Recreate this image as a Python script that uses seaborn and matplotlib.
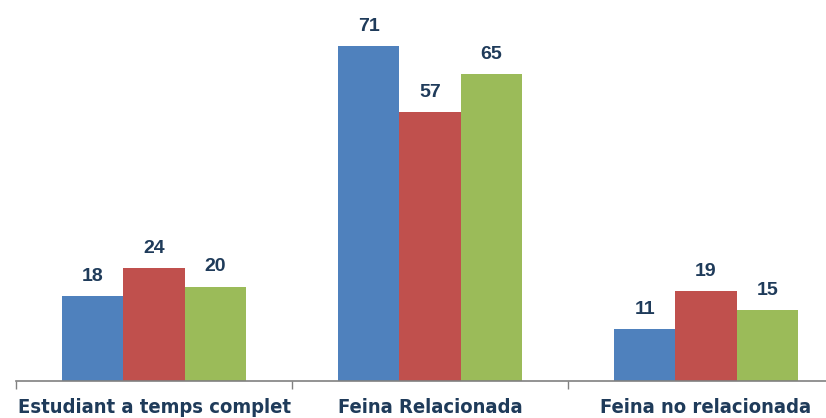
import matplotlib
matplotlib.use("Agg")
import matplotlib.pyplot as plt
import seaborn as sns
import pandas as pd
from matplotlib import font_manager

categories = ["Estudiant a temps complet", "Feina Relacionada", "Feina no relacionada"]
series = ["A", "B", "C"]
values_a = [18, 71, 11]
values_b = [24, 57, 19]
values_c = [20, 65, 15]
colors = ["#4F81BD", "#C0504D", "#9BBB59"]

rows = []
for s, vals in zip(series, [values_a, values_b, values_c]):
    for c, v in zip(categories, vals):
        rows.append({"cat": c, "series": s, "value": v})
df = pd.DataFrame(rows)

sns.set_style("white")
plt.rcParams['font.family'] = ['Liberation Sans', 'DejaVu Sans']

# find a condensed bold font file if available
cond_file = None
for f in font_manager.fontManager.ttflist:
    low = f.fname.lower()
    if ("narrow" in low or "condensed" in low) and ("bold" in low) and "oblique" not in low and "italic" not in low:
        if "liberation" in low:
            cond_file = f.fname
            break
        if cond_file is None:
            cond_file = f.fname

fig = plt.figure(figsize=(8.26, 4.18), dpi=100)
ax = fig.add_axes([16/826, 1 - 381/418, 810/826, 381/418])
sns.barplot(data=df, x="cat", y="value", hue="series", palette=colors,
            width=0.667, gap=0, saturation=1, ax=ax, legend=False, linewidth=0)

txt = "#1F3B5A"
for cont in ax.containers:
    ax.bar_label(cont, labels=[f"{v:.0f}" for v in cont.datavalues], padding=8,
                 fontsize=14, fontweight="bold", color=txt)

ax.set_xlim(-0.5, 810 / 276 - 0.5)
ax.set_ylim(0, 80.7)
ax.set_xlabel("")
ax.set_ylabel("")
ax.set_yticks([])
for s in ["top", "right", "left"]:
    ax.spines[s].set_visible(False)
ax.spines["bottom"].set_color("#808080")
ax.spines["bottom"].set_linewidth(1.2)
ax.set_xticks([-0.5, 0.5, 1.5], minor=True)
ax.tick_params(axis="x", which="minor", length=6, width=1, color="#808080", bottom=True)
ax.tick_params(axis="x", which="major", length=0, pad=12)
for lab in ax.get_xticklabels():
    if cond_file:
        lab.set_fontproperties(font_manager.FontProperties(fname=cond_file, size=14.5))
    else:
        lab.set_fontproperties(font_manager.FontProperties(family="DejaVu Sans", stretch="condensed", weight="bold", size=13))
    lab.set_color(txt)

fig.savefig("out.png", dpi=100)
